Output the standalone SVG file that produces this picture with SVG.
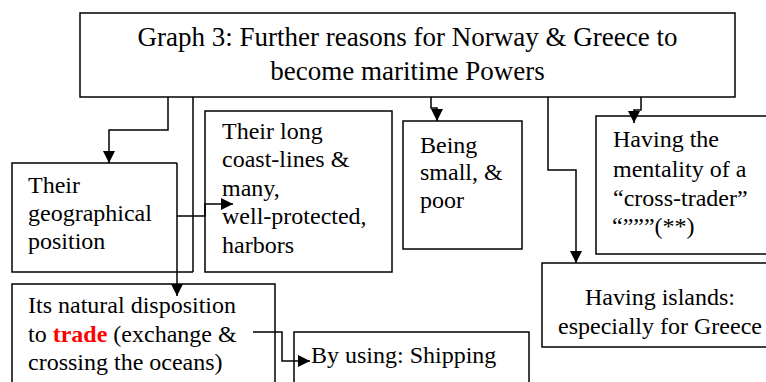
<svg xmlns="http://www.w3.org/2000/svg" width="766" height="382" viewBox="0 0 766 382">
<style>
.box{fill:#fff;stroke:#000;stroke-width:1.5}
.edge{fill:none;stroke:#000;stroke-width:1.5}
text{font-family:"Liberation Serif","Times New Roman",serif;font-size:24px;fill:#000}
.title{font-size:27px}
.red{fill:#ff0000;font-weight:bold}
</style>
<defs>
<marker id="arr" markerUnits="userSpaceOnUse" markerWidth="12" markerHeight="12" refX="12" refY="6" orient="auto" viewBox="0 0 12 12">
<path d="M0,0 L12,6 L0,12 z" fill="#000"/>
</marker>
</defs>
<rect width="766" height="382" fill="#fff"/>
<g id="title">
<rect class="box" x="80" y="13" width="655" height="84"/>
<text class="title" x="407.5" y="46" text-anchor="middle">Graph 3: Further reasons for Norway &amp; Greece to</text>
<text class="title" x="407.5" y="80" text-anchor="middle">become maritime Powers</text>
</g>
<g id="geo">
<path class="edge" d="M177,163 H12 V272 H193"/>
<text x="28" y="193">Their</text>
<text x="28" y="221">geographical</text>
<text x="28" y="249">position</text>
</g>
<g id="coast">
<rect class="box" x="205" y="111" width="187" height="161"/>
<text x="222" y="139">Their long</text>
<text x="222" y="167">coast-lines &amp;</text>
<text x="222" y="196">many,</text>
<text x="222" y="224">well-protected,</text>
<text x="222" y="253">harbors</text>
</g>
<g id="small">
<rect class="box" x="403" y="121" width="119" height="128"/>
<text x="420" y="153">Being</text>
<text x="420" y="180">small, &amp;</text>
<text x="420" y="208">poor</text>
</g>
<g id="mentality">
<rect class="box" x="596" y="116" width="180" height="138"/>
<text x="613" y="147">Having the</text>
<text x="613" y="177">mentality of a</text>
<text x="613" y="206">“cross-trader”</text>
<text x="612" y="234">“”””(**)</text>
</g>
<g id="islands">
<rect class="box" x="542" y="263" width="230" height="84"/>
<text x="660" y="305" text-anchor="middle">Having islands:</text>
<text x="660" y="334" text-anchor="middle">especially for Greece</text>
</g>
<g id="trade">
<rect class="box" x="12" y="284" width="263" height="110"/>
<text x="28" y="313">Its natural disposition</text>
<text x="28" y="342">to <tspan class="red">trade</tspan> (exchange &amp;</text>
<text x="28" y="370">crossing the oceans)</text>
</g>
<g id="shipping">
<rect class="box" x="294" y="332" width="235" height="62"/>
<text x="311" y="363">By using: Shipping</text>
</g>
<g id="connectors">
<path class="edge" d="M168,97 V130 H109 V163" marker-end="url(#arr)"/>
<path class="edge" d="M193,97 V272"/>
<path class="edge" d="M177,163 V296" marker-end="url(#arr)"/>
<path class="edge" d="M177,216 H205 V204 H233" marker-end="url(#arr)"/>
<path class="edge" d="M431,97 V108 H437 V121" marker-end="url(#arr)"/>
<path class="edge" d="M548,97 V170 H576 V263" marker-end="url(#arr)"/>
<path class="edge" d="M641,97 V110 H634 V123" marker-end="url(#arr)"/>
<path class="edge" d="M253,332 H282 V361 H310" marker-end="url(#arr)"/>
</g>
</svg>
